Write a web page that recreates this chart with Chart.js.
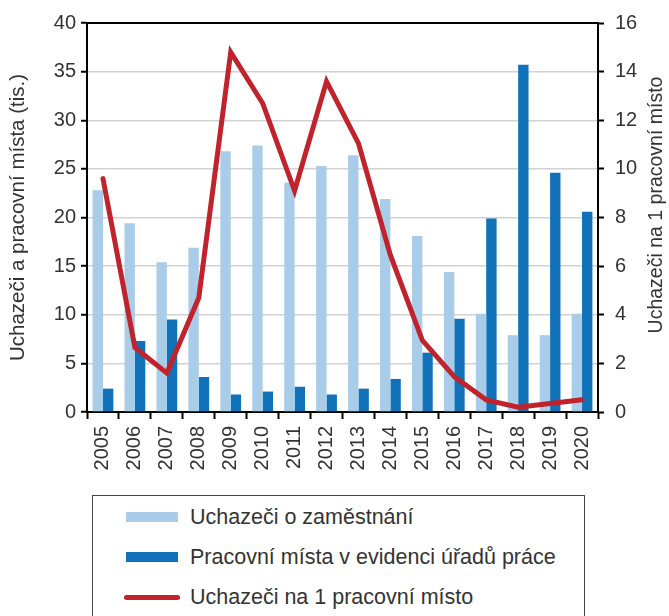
<!DOCTYPE html>
<html lang="cs">
<head>
  <meta charset="UTF-8">
  <title>Uchazeči a pracovní místa</title>
  <script src="https://cdn.jsdelivr.net/npm/chart.js"></script>
  <style>
    body {
      margin: 0;
      background: #fff;
      font-family: 'Liberation Sans', Arial, sans-serif;
      color: #333;
    }
    #wrap {
      position: relative;
      width: 669px;
      height: 616px;
      overflow: hidden;
    }
    #chartBox {
      position: absolute;
      left: 0;
      top: 0;
      width: 669px;
      height: 490px;
    }
    #legend {
      position: absolute;
      left: 92px;
      top: 495px;
      width: 493px;
      height: 160px;
      border: 1.5px solid #444;
      box-sizing: border-box;
    }
    .item {
      position: absolute;
      left: 0;
      height: 26px;
      font-size: 21.5px;
      line-height: 26px;
      white-space: nowrap;
    }
    .item span.sw {
      position: absolute;
      left: 33px;
      width: 52px;
    }
    .item span.txt {
      position: absolute;
      left: 97px;
      top: 0;
    }
  </style>
</head>
<body>
  <div id="wrap">
    <div id="chartBox"><canvas id="chart"></canvas></div>
    <div id="legend"></div>
  </div>

  <script>
    const years = ["2005", "2006", "2007", "2008", "2009", "2010", "2011", "2012",
                   "2013", "2014", "2015", "2016", "2017", "2018", "2019", "2020"];

    // Uchazeči o zaměstnání (tis.)
    const uchazeci = [22.8, 19.4, 15.4, 16.9, 26.8, 27.4, 23.6, 25.3,
                      26.4, 21.9, 18.1, 14.4, 10.1, 7.9, 7.9, 10.1];

    // Pracovní místa v evidenci úřadů práce (tis.)
    const mista = [2.4, 7.3, 9.5, 3.6, 1.8, 2.1, 2.6, 1.8,
                   2.4, 3.4, 6.1, 9.6, 19.9, 35.7, 24.6, 20.6];

    // Uchazeči na 1 pracovní místo
    const naMisto = [9.6, 2.65, 1.6, 4.7, 14.8, 12.7, 9.1, 13.6,
                     11.05, 6.45, 2.95, 1.45, 0.5, 0.2, 0.35, 0.5];

    const lightBlue = "#a9cde8";
    const darkBlue = "#1072b9";
    const red = "#c0232b";
    const fontFam = "'Liberation Sans', Arial, sans-serif";

    const topLine = {
      id: "topLine",
      afterDraw(chart) {
        const { ctx, chartArea } = chart;
        ctx.save();
        ctx.strokeStyle = "#000";
        ctx.lineWidth = 2;
        ctx.beginPath();
        ctx.moveTo(chartArea.left - 1, chartArea.top);
        ctx.lineTo(chartArea.right + 1, chartArea.top);
        ctx.stroke();

        // right axis title, reading bottom to top
        ctx.fillStyle = "#333";
        ctx.font = "19.5px " + fontFam;
        ctx.textAlign = "center";
        ctx.textBaseline = "middle";
        ctx.translate(657, 205);
        ctx.rotate(-Math.PI / 2);
        ctx.fillText("Uchazeči na 1 pracovní místo", 0, 0);
        ctx.restore();
      }
    };

    const chart = new Chart(document.getElementById("chart"), {
      type: "bar",
      data: {
        labels: years,
        datasets: [
          {
            type: "line",
            label: "Uchazeči na 1 pracovní místo",
            data: naMisto,
            yAxisID: "y1",
            borderColor: red,
            backgroundColor: red,
            borderWidth: 5,
            pointRadius: 0,
            tension: 0,
            borderCapStyle: "round",
            order: 0
          },
          {
            label: "Uchazeči o zaměstnání",
            data: uchazeci,
            yAxisID: "y",
            backgroundColor: lightBlue,
            categoryPercentage: 0.65,
            barPercentage: 1.0,
            order: 1
          },
          {
            label: "Pracovní místa v evidenci úřadů práce",
            data: mista,
            yAxisID: "y",
            backgroundColor: darkBlue,
            categoryPercentage: 0.65,
            barPercentage: 1.0,
            order: 1
          }
        ]
      },
      options: {
        responsive: true,
        maintainAspectRatio: false,
        animation: false,
        layout: { padding: { top: 21, left: 0, right: 0, bottom: 0 } },
        plugins: {
          legend: { display: false },
          tooltip: { enabled: false }
        },
        scales: {
          x: {
            grid: {
              offset: true,
              drawOnChartArea: false,
              tickLength: 7,
              tickColor: "#000",
              tickWidth: 2
            },
            border: { color: "#000", width: 2 },
            ticks: {
              minRotation: 90,
              maxRotation: 90,
              padding: 7,
              color: "#333",
              font: { family: fontFam, size: 20 }
            },
            afterFit(scale) { scale.height = 78; }
          },
          y: {
            position: "left",
            min: 0,
            max: 40,
            ticks: {
              stepSize: 5,
              padding: 5,
              color: "#333",
              font: { family: fontFam, size: 20 }
            },
            grid: {
              color: "#d2d2d2",
              lineWidth: 1.5,
              tickLength: 6,
              tickColor: "#000",
              tickWidth: 2
            },
            border: { color: "#000", width: 2 },
            title: {
              display: true,
              text: "Uchazeči a pracovní místa (tis.)",
              color: "#333",
              font: { family: fontFam, size: 20.5 },
              padding: { top: 6, bottom: 0 }
            },
            afterFit(scale) { scale.width = 87; }
          },
          y1: {
            position: "right",
            min: 0,
            max: 16,
            ticks: {
              stepSize: 2,
              padding: 11,
              color: "#333",
              font: { family: fontFam, size: 20 }
            },
            grid: {
              drawOnChartArea: false,
              tickLength: 6,
              tickColor: "#000",
              tickWidth: 2
            },
            border: { color: "#000", width: 2 },
            afterFit(scale) { scale.width = 71; }
          }
        }
      },
      plugins: [topLine]
    });

    // legend in a framed box below the chart
    const legend = document.getElementById("legend");
    const order = [1, 2, 0];
    order.forEach((idx, i) => {
      const ds = chart.data.datasets[idx];
      const item = document.createElement("div");
      item.className = "item";
      item.style.top = (8 + i * 40) + "px";
      const sw = document.createElement("span");
      sw.className = "sw";
      if (ds.type === "line") {
        sw.style.top = "11px";
        sw.style.height = "5px";
        sw.style.left = "31px";
        sw.style.width = "56px";
        sw.style.borderRadius = "3px";
      } else {
        sw.style.top = "8px";
        sw.style.height = "10px";
      }
      sw.style.background = ds.backgroundColor;
      const txt = document.createElement("span");
      txt.className = "txt";
      txt.textContent = ds.label;
      item.appendChild(sw);
      item.appendChild(txt);
      legend.appendChild(item);
    });
  </script>
</body>
</html>
